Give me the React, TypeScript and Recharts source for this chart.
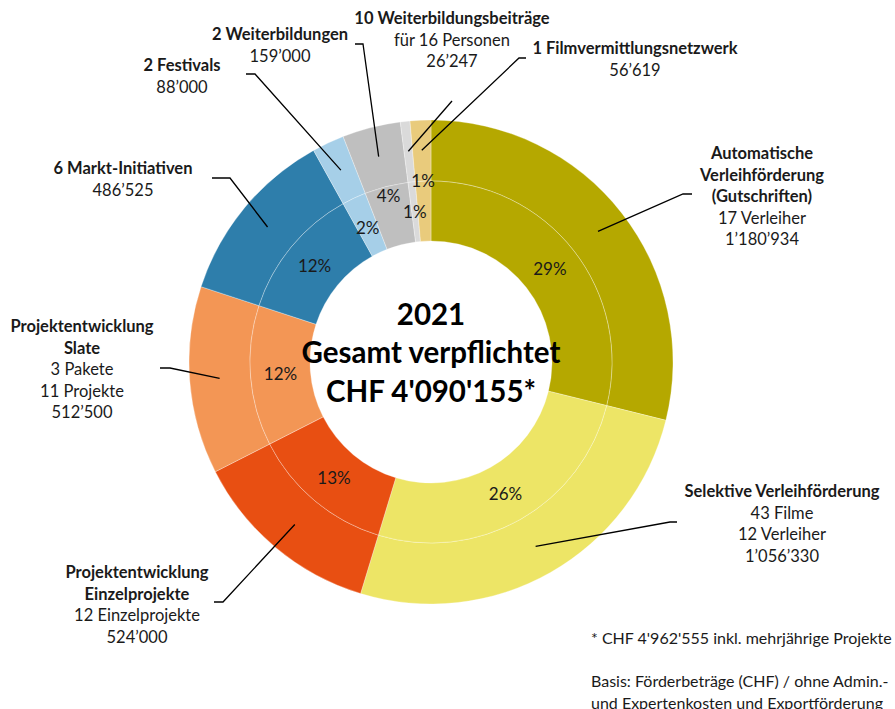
import { PieChart, Pie, Cell, Label } from 'recharts';

// CHF committed 2021, clockwise from 12 o'clock
const categories = [
  'Automatische Verleihförderung',
  'Selektive Verleihförderung',
  'Projektentwicklung Einzelprojekte',
  'Projektentwicklung Slate',
  'Markt-Initiativen',
  'Festivals',
  'Weiterbildungen',
  'Weiterbildungsbeiträge',
  'Filmvermittlungsnetzwerk'
];
const amounts = [1180934, 1056330, 524000, 512500, 486525, 88000, 159000, 26247, 56619];
const pctLabels = ['29%', '26%', '13%', '12%', '12%', '2%', '4%', '1%', '1%'];
const titleLines = [
  ['Automatische', 'Verleihförderung', '(Gutschriften)'],
  ['Selektive Verleihförderung'],
  ['Projektentwicklung', 'Einzelprojekte'],
  ['Projektentwicklung', 'Slate'],
  ['6 Markt-Initiativen'],
  ['2 Festivals'],
  ['2 Weiterbildungen'],
  ['10 Weiterbildungsbeiträge'],
  ['1 Filmvermittlungsnetzwerk']
];
const detailLines = [
  ['17 Verleiher'],
  ['43 Filme', '12 Verleiher'],
  ['12 Einzelprojekte'],
  ['3 Pakete', '11 Projekte'],
  [],
  [],
  [],
  ['für 16 Personen'],
  []
];
const centerLines = ['2021', 'Gesamt verpflichtet', "CHF 4'090'155*"];
const footnotes = [
  "* CHF 4'962'555 inkl. mehrjährige Projekte",
  '',
  'Basis: Förderbeträge (CHF) / ohne Admin.-',
  'und Expertenkosten und Exportförderung'
];

const colors = ['#B5A800', '#EDE566', '#E84F12', '#F39655', '#2E7EAB', '#A6CFE8', '#BFBFBF', '#DADADA', '#E9CB7C'];

// label placement (text centre / leader elbow / leader end), px in chart space
const labelLayout = [
  { x: 762, y: 153, elbow: [683, 194], end: [692, 194] },
  { x: 782, y: 491, elbow: [670, 522], end: [677, 522] },
  { x: 137, y: 572, elbow: [223, 602], end: [214, 602] },
  { x: 82, y: 326, elbow: [170, 368], end: [160, 368] },
  { x: 123, y: 168, elbow: [230, 178], end: [212, 178] },
  { x: 182, y: 65, elbow: [255, 74], end: [246, 74] },
  { x: 280, y: 34, elbow: [363, 44], end: [355, 44] },
  { x: 452, y: 18, elbow: [452, 101], end: [452, 101] },
  { x: 635, y: 48, elbow: [519, 58], end: [526, 58] }
];
const pctRadius = [151, 151, 151, 151, 151, 149, 172, 151, 182];

const data = categories.map((name, i) => ({ name, value: amounts[i] }));

const FONT = 'Lato, "Open Sans", sans-serif';
const RAD = Math.PI / 180;
const CX = 431;
const CY = 362;
const LINE_H = 21.5;

const fmt = (v: number) => String(v).replace(/\B(?=(\d{3})+(?!\d))/g, '’');

const polar = (cx: number, cy: number, r: number, angle: number) => [
  cx + r * Math.cos(-angle * RAD),
  cy + r * Math.sin(-angle * RAD)
];

const renderPct = (props: any) => {
  const { cx, cy, midAngle, index } = props;
  const [x, y] = polar(cx, cy, pctRadius[index], midAngle);
  return (
    <text x={x} y={y} textAnchor="middle" dominantBaseline="central" fontSize={17} fill="#1a1a1a" fontFamily={FONT}>
      {pctLabels[index]}
    </text>
  );
};

const renderOuter = (props: any) => {
  const { cx, cy, midAngle, index } = props;
  const lay = labelLayout[index];
  const [sx, sy] = polar(cx, cy, 212, midAngle);
  const lines = [
    ...titleLines[index].map((t) => ({ t, bold: true })),
    ...detailLines[index].map((t) => ({ t, bold: false })),
    { t: fmt(amounts[index]), bold: false }
  ];
  return (
    <g>
      <polyline
        points={`${sx},${sy} ${lay.elbow[0]},${lay.elbow[1]} ${lay.end[0]},${lay.end[1]}`}
        fill="none"
        stroke="#000"
        strokeWidth={1.3}
      />
      {lines.map((l, i) => (
        <text
          key={i}
          x={lay.x}
          y={lay.y + i * LINE_H}
          textAnchor="middle"
          dominantBaseline="central"
          fontSize={16.5}
          fontWeight={l.bold ? 700 : 400}
          fill="#1a1a1a"
          fontFamily={FONT}
        >
          {l.t}
        </text>
      ))}
    </g>
  );
};

const renderCenter = (props: any) => {
  const vb = props.viewBox || {};
  const cx = vb.cx ?? CX;
  const cy = vb.cy ?? CY;
  return (
    <g>
      {centerLines.map((t, i) => (
        <text
          key={t}
          x={cx}
          y={cy - 49 + i * 38.5}
          textAnchor="middle"
          dominantBaseline="central"
          fontSize={29.5}
          fontWeight={700}
          fill="#000"
          fontFamily={FONT}
        >
          {t}
        </text>
      ))}
    </g>
  );
};

export default function App() {
  return (
    <div style={{ position: 'absolute', left: 0, top: 0, width: 895, height: 709, background: '#fff', overflow: 'hidden' }}>
      <PieChart width={895} height={709} margin={{ top: 0, right: 0, bottom: 0, left: 0 }}>
        <Pie
          data={data}
          dataKey="value"
          cx={CX}
          cy={CY}
          innerRadius={181}
          outerRadius={242}
          startAngle={90}
          endAngle={-270}
          stroke="rgba(255,255,255,0.5)"
          strokeWidth={0.6}
          label={renderOuter}
          labelLine={false}
          isAnimationActive={false}
        >
          {data.map((d, i) => (
            <Cell key={d.name} fill={colors[i]} />
          ))}
        </Pie>
        <Pie
          data={data}
          dataKey="value"
          cx={CX}
          cy={CY}
          innerRadius={121}
          outerRadius={181}
          startAngle={90}
          endAngle={-270}
          stroke="rgba(255,255,255,0.5)"
          strokeWidth={0.6}
          label={renderPct}
          labelLine={false}
          isAnimationActive={false}
        >
          {data.map((d, i) => (
            <Cell key={d.name} fill={colors[i]} />
          ))}
          <Label position="center" content={renderCenter} />
        </Pie>
        {footnotes.map((t, i) => (
          <text
            key={i}
            x={591}
            y={637 + i * 21.7}
            dominantBaseline="central"
            fontSize={16}
            fill="#1a1a1a"
            fontFamily={FONT}
          >
            {t}
          </text>
        ))}
      </PieChart>
    </div>
  );
}
